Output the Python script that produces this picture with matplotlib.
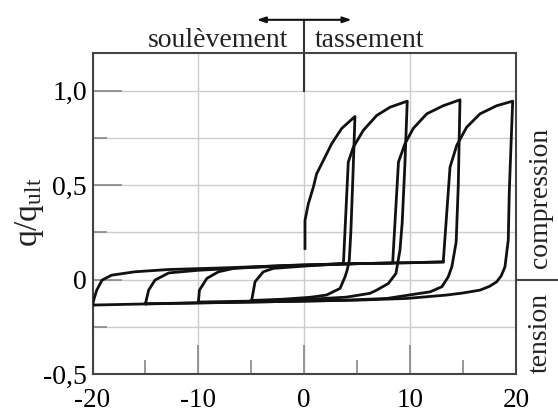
import matplotlib
matplotlib.use('Agg')
import matplotlib.pyplot as plt
from matplotlib.ticker import FixedLocator

plt.rcParams['font.family'] = ['Liberation Serif', 'DejaVu Serif']
plt.rcParams['mathtext.fontset'] = 'custom'
plt.rcParams['mathtext.rm'] = 'Liberation Serif'
plt.rcParams['mathtext.it'] = 'Liberation Serif:italic'

# ---- data (displacement vs q/q_ult) ----
x1 = [0.07, 0.07, 0.38, 0.86, 1.17, 1.8, 2.6, 3.54, 4.79, 4.6, 4.4, 4.25, 4.05, 3.85, 3.38, 2.1, 0.54, -2.0, -5.0]
y1 = [0.165, 0.314, 0.40, 0.49, 0.56, 0.63, 0.72, 0.80, 0.863, 0.55, 0.25, 0.10, 0.05, 0.015, -0.046, -0.081, -0.093, -0.103, -0.11]

x2 = [-5.0, -4.96, -4.65, -3.87, -2.92, 0.0, 3.7, 4.16, 4.63, 5.58, 6.84, 8.1, 9.73, 9.5, 9.25, 9.04, 8.66, 7.94, 6.84, 6.2, 4.0, 0.0, -5.0, -10.0]
y2 = [-0.11, -0.108, -0.011, 0.042, 0.06, 0.072, 0.086, 0.622, 0.70, 0.79, 0.868, 0.912, 0.944, 0.6, 0.3, 0.156, 0.033, -0.02, -0.055, -0.072, -0.092, -0.105, -0.113, -0.118]

x3 = [-10.0, -9.9, -9.2, -8.1, -6.5, -2.0, 3.0, 8.35, 8.9, 9.52, 10.3, 11.57, 13.13, 14.71, 14.55, 14.35, 13.95, 13.6, 13.0, 11.9, 10.0, 7.8, 4.0, 0.0, -5.0, -10.0, -15.0]
y3 = [-0.118, -0.055, 0.007, 0.042, 0.062, 0.075, 0.083, 0.088, 0.622, 0.72, 0.80, 0.877, 0.92, 0.951, 0.5, 0.2, 0.07, 0.015, -0.037, -0.064, -0.08, -0.099, -0.108, -0.113, -0.118, -0.122, -0.127]

x4 = [-15.0, -14.7, -14.1, -12.8, -10.0, -5.0, 0.0, 5.0, 10.0, 13.13, 13.77, 14.4, 15.34, 16.6, 18.18, 19.69, 19.55, 19.37, 19.27, 18.96, 18.6, 18.18, 17.5, 16.6, 15.0, 13.45, 9.68, 5.0, 0.0, -5.0, -10.0, -15.0, -20.0]
y4 = [-0.127, -0.055, -0.002, 0.036, 0.05, 0.065, 0.075, 0.085, 0.09, 0.094, 0.595, 0.71, 0.806, 0.877, 0.92, 0.944, 0.74, 0.47, 0.21, 0.068, 0.02, -0.011, -0.035, -0.055, -0.07, -0.081, -0.099, -0.108, -0.113, -0.118, -0.123, -0.128, -0.134]

x5 = [-20.0, -19.85, -19.6, -19.1, -18.2, -16.0, -12.8, -8.0, -4.0, 0.0, 5.0, 10.0, 13.13]
y5 = [-0.134, -0.1, -0.055, -0.002, 0.024, 0.042, 0.054, 0.062, 0.07, 0.078, 0.085, 0.09, 0.094]

x_ticks = [-20, -10, 0, 10, 20]
x_ticklabels = ['-20', '-10', '0', '10', '20']
x_minor = [-15, -5, 5, 15]
y_ticks = [-0.5, 0.0, 0.5, 1.0]
y_ticklabels = ['-0,5', '0', '0,5', '1,0']
y_minor = [-0.25, 0.25, 0.75]

fig = plt.figure(figsize=(5.58, 4.12), dpi=100)
ax = fig.add_axes([0.1658, 0.0915, 0.7589, 0.7805])

for xs, ys in [(x1, y1), (x2, y2), (x3, y3), (x4, y4), (x5, y5)]:
    ax.plot(xs, ys, color='#111111', lw=2.0, solid_joinstyle='round', zorder=3)

ax.set_xlim(-20, 20)
ax.set_ylim(-0.5, 1.2)
ax.xaxis.set_major_locator(FixedLocator(x_ticks))
ax.xaxis.set_minor_locator(FixedLocator(x_minor))
ax.set_xticklabels(x_ticklabels)
ax.yaxis.set_major_locator(FixedLocator(y_ticks))
ax.yaxis.set_minor_locator(FixedLocator(y_minor))
ax.set_yticklabels(y_ticklabels)

ax.tick_params(which='major', direction='in', length=21, width=1.2, color='#888888', labelsize=20)
ax.tick_params(which='minor', direction='in', length=10, width=1.2, color='#888888')
ax.tick_params(axis='x', which='major', pad=10, labelsize=19.5)
ax.tick_params(axis='y', which='major', pad=4)

ax.grid(True, axis='y', which='both', color='#cccccc', lw=1.0, zorder=0)
ax.grid(True, axis='x', which='major', color='#cccccc', lw=1.0, zorder=0)
ax.set_axisbelow(True)

for s in ax.spines.values():
    s.set_color('#444444')
    s.set_linewidth(1.5)

# top indicator
ax.plot([0, 0], [1.0, 1.374], color='#333333', lw=1.5, clip_on=False)
ax.annotate('', xy=(-4.49, 1.374), xytext=(4.48, 1.374), annotation_clip=False,
            arrowprops=dict(arrowstyle='<|-|>,head_length=0.5,head_width=0.17',
                            color='#111111', lw=1.5, shrinkA=0, shrinkB=0))
fig.text(288 / 558, 1 - 46.7 / 412, 'soulèvement', ha='right', va='baseline', fontsize=20, color='#222222')
fig.text(315 / 558, 1 - 46.7 / 412, 'tassement', ha='left', va='baseline', fontsize=20, color='#222222')

# right side
ax.plot([20, 24.5], [0, 0], color='#444444', lw=1.5, clip_on=False)
fig.text(540 / 558, 1 - 198 / 412, 'compression', rotation=90, ha='center', va='center', fontsize=20, color='#222222')
fig.text(540 / 558, 1 - 333 / 412, 'tension', rotation=90, ha='center', va='center', fontsize=20, color='#222222')

# y label
fig.text(30 / 558, 1 - 212 / 412, r'$\mathrm{q/q_{ult}}$', rotation=90, ha='center', va='center', fontsize=24, color='#222222')

fig.savefig('out.png', dpi=100)
